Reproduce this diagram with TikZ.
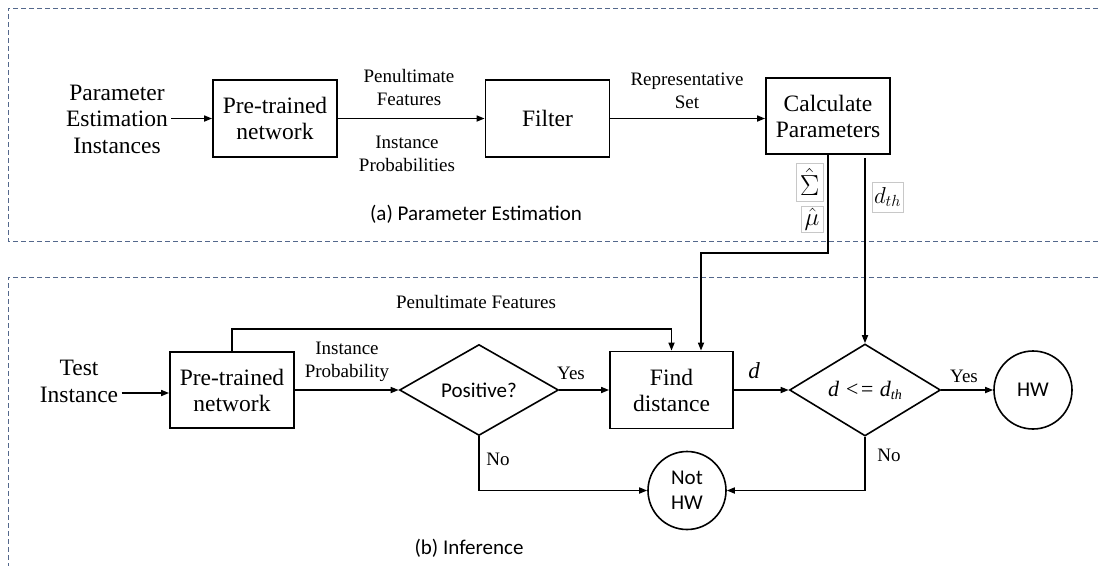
\RequirePackage{fix-cm}
\documentclass[tikz,border=0pt]{standalone}
\usepackage{fontspec}
\setmainfont{Liberation Serif}
\newfontfamily\carl{Carlito}
\usetikzlibrary{shapes.geometric,arrows.meta,calc}
\definecolor{dashblue}{RGB}{84,104,140}
\definecolor{lblgray}{RGB}{200,200,200}
\begin{document}
\begin{tikzpicture}[x=1pt,y=-1pt,
  dbox/.style={draw=dashblue,line width=1pt,dash pattern=on 5pt off 3pt},
  proc/.style={draw,line width=1.8pt,minimum width=124pt,minimum height=77pt,inner sep=0pt,align=center,font=\fontsize{23.5}{26}\selectfont},
  dec/.style={draw,line width=1.6pt,diamond,inner sep=0pt,align=center},
  term/.style={draw,line width=1.6pt,circle,minimum size=78pt,inner sep=0pt,align=center,font=\carl\fontsize{21}{25}\selectfont},
  arr/.style={line width=1.6pt,-{Triangle[length=8pt,width=6pt]}},
  lbl/.style={align=center,inner sep=1pt,font=\fontsize{19}{23}\selectfont},
  big/.style={align=center,font=\fontsize{23.5}{26.5}\selectfont},
  mbox/.style={draw=lblgray,line width=0.8pt,fill=white,inner sep=0pt},
  captxt/.style={font=\carl\fontsize{21}{25}\selectfont}
]
\useasboundingbox (0,0) rectangle (1098,566);
% dashed frames
\draw[dbox] (1098,8) -- (8,8) -- (8,241) -- (1098,241);
\draw[dbox] (1098,277) -- (8,277) -- (8,566);

% ---------- (a) Parameter estimation ----------
\node[big] (pei) at (117,119) {Parameter\\Estimation\\Instances};
\node[proc] (pt1) at (275,118.5) {Pre-trained\\network};
\node[proc] (flt) at (547.5,118.5) {Filter};
\node[proc,minimum height=76pt] (calc) at (828,116) {Calculate\\Parameters};
\draw[arr] (pei.east |- pt1.west) -- (pt1.west);
\draw[arr] (pt1.east) -- (flt.west);
\draw[arr] (flt.east) -- (flt.east -| calc.west);
\node[lbl] (pf1) at (409,87) {Penultimate\\Features};
\node[lbl] (ip1) at (407,154) {Instance\\Probabilities};
\node[lbl] (rs) at (687,91) {Representative\\Set};
\node[captxt] (capa) at (476,214) {(a) Parameter Estimation};

\node[mbox,minimum width=27pt,minimum height=38pt] (sig) at (809.5,182) {\fontsize{29}{29}\selectfont$\hat{\Sigma}$};
\node[mbox,minimum width=22pt,minimum height=26pt] (mu) at (812,219) {\fontsize{25}{25}\selectfont$\hat{\mu}$};
\node[mbox,minimum width=31pt,minimum height=30pt] (dth) at (887.5,197) {\fontsize{23}{23}\selectfont$d_{th}$};

% ---------- (b) Inference ----------
\node[big,font=\fontsize{23.5}{27}\selectfont] (ti) at (79,381) {Test\\Instance};
\node[proc,minimum height=76pt] (pt2) at (232,390) {Pre-trained\\network};
\node[dec,minimum width=159pt,minimum height=91pt,font=\carl\fontsize{21}{25}\selectfont] (pos) at (479,390) {Positive?};
\node[proc,minimum width=123pt] (fd) at (671.5,390) {Find\\distance};
\node[dec,minimum width=151pt,minimum height=89pt,font=\fontsize{22}{22}\selectfont] (dd) at (865,390)
  {\itshape d <= d\raisebox{-3pt}{\fontsize{14}{14}\selectfont th}};
\node[term] (hw) at (1033,390) {HW};
\node[term] (nhw) at (687,490.5) {Not\\HW};

\draw[arr] ([yshift=-3pt]ti.east |- pt2.west) -- ([yshift=-3pt]pt2.west);
\coordinate (fb) at (671.5,329);
\draw[arr] (pt2.north) |- (fb) -- (fd.north);
\node[lbl] (pf2) at (476,302) {Penultimate Features};
\draw[arr] (pt2.east) -- (pos.west);
\node[lbl] (ip2) at (347,362) {Instance\\Probability};
\draw[arr] (pos.east) -- (fd.west);
\node[lbl] (y1) at (571,373) {Yes};
\draw[arr] (fd.east) -- (dd.west);
\node[lbl,font=\itshape\fontsize{23}{23}\selectfont] (dl) at (754,371) {d};
\draw[arr] (dd.east) -- (hw.west);
\node[lbl] (y2) at (964,376) {Yes};
\draw[arr] (pos.south) |- (nhw.west);
\node[lbl] (n1) at (498,459) {No};
\draw[arr] (dd.south) |- (nhw.east);
\node[lbl] (n2) at (889,455) {No};

% connectors from parameter estimation
\coordinate (b1) at (701,253);
\draw[arr] (calc.south) |- (b1) -- (b1 |- fd.north);
\draw[arr] ([shift={(37,3)}]calc.south) -- (dd.north);

\node[captxt] (capb) at (469,548) {(b) Inference};
\end{tikzpicture}
\end{document}
